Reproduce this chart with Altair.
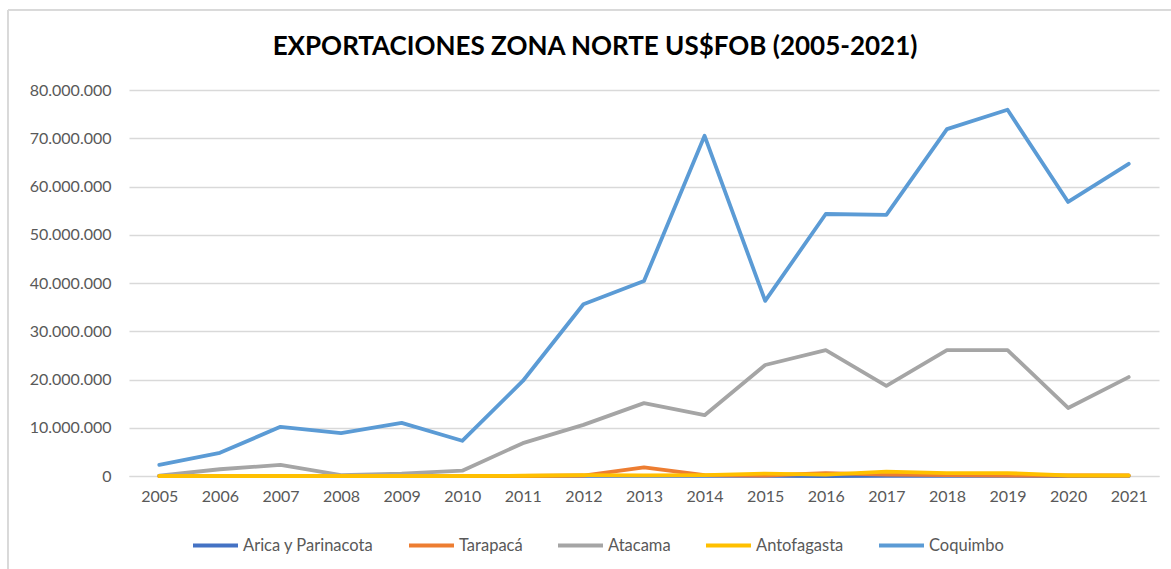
import altair as alt
import pandas as pd

years = [str(y) for y in range(2005, 2022)]
series_names = ["Arica y Parinacota", "Tarapacá", "Atacama", "Antofagasta", "Coquimbo"]
series_colors = ["#4472C4", "#ED7D31", "#A5A5A5", "#FFC000", "#5B9BD5"]

arica = [20000, 15000, 30000, 10000, 20000, 10000, 5000, 10000, 20000, 30000, 10000, 0, 50000, 20000, 10000, 0, 20000]
tarapaca = [0, 0, 0, 0, 0, 0, 0, 100000, 1800000, 200000, 100000, 600000, 300000, 200000, 100000, 100000, 100000]
atacama = [100000, 1400000, 2300000, 200000, 500000, 1100000, 6800000, 10600000, 15100000, 12600000,
           23000000, 26100000, 18700000, 26100000, 26100000, 14100000, 20500000]
antofagasta = [0, 0, 0, 0, 0, 0, 50000, 200000, 150000, 200000, 500000, 300000, 900000, 600000, 600000, 100000, 100000]
coquimbo = [2300000, 4800000, 10200000, 8900000, 11000000, 7300000, 19700000, 35600000, 40400000, 70500000,
            36300000, 54300000, 54100000, 71900000, 75900000, 56800000, 64700000]

all_values = [arica, tarapaca, atacama, antofagasta, coquimbo]
y_ticks = [0, 10000000, 20000000, 30000000, 40000000, 50000000, 60000000, 70000000, 80000000]

rows = []
for name, vals in zip(series_names, all_values):
    for yr, v in zip(years, vals):
        rows.append({"Año": yr, "Región": name, "Valor": v})
df = pd.DataFrame(rows)

FONT = "Lato"
GRAY = "#595959"
GRID = "#D9D9D9"

color_scale = alt.Scale(domain=series_names, range=series_colors)

base = alt.Chart(df).encode(
    x=alt.X("Año:O", scale=alt.Scale(type="point", padding=0.5),
            axis=alt.Axis(title=None, labelAngle=0, ticks=False, tickSize=0, labelPadding=12,
                          domainColor=GRID, domainWidth=1, labelColor=GRAY, labelFontSize=16,
                          labelFont=FONT, grid=False)),
    y=alt.Y("Valor:Q", scale=alt.Scale(domain=[0, 80000000], nice=False),
            axis=alt.Axis(title=None, values=y_ticks, format=",d", ticks=False, domain=False,
                          labelPadding=18, labelColor=GRAY, labelFontSize=16, labelFont=FONT,
                          gridColor=GRID, gridWidth=1.3)),
    color=alt.Color("Región:N", scale=color_scale, sort=series_names,
                    legend=alt.Legend(title=None, orient="none", direction="horizontal",
                                      legendX=62, legendY=431, symbolType="stroke",
                                      symbolStrokeWidth=4, symbolSize=2025, labelOffset=3,
                                      columnPadding=27, labelFontSize=16.5, labelFont=FONT,
                                      labelColor=GRAY, labelLimit=300)),
)

layers = []
for name in series_names:
    layers.append(
        base.transform_filter(alt.datum["Región"] == name)
        .mark_line(strokeWidth=3.8, strokeCap="round", strokeJoin="round")
    )

border_left = alt.Chart(df).mark_rule(color=GRID, strokeWidth=1).encode(
    x=alt.value(-121), y=alt.value(-80), y2=alt.value(480))
border_top = alt.Chart(df).mark_rule(color=GRID, strokeWidth=1).encode(
    x=alt.value(-121), x2=alt.value(1045), y=alt.value(-80))

chart = alt.layer(border_left, border_top, *layers).properties(
    width=1030,
    height=386,
    autosize=alt.AutoSizeParams(type="none"),
    padding={"left": 129, "top": 90, "right": 12, "bottom": 93},
    title=alt.TitleParams("EXPORTACIONES ZONA NORTE US$FOB (2005-2021)", font=FONT, fontSize=26,
                          fontWeight="bold", color="#000000", anchor="middle", frame="group",
                          offset=32, dy=82, dx=-49),
    background="white",
).configure_view(stroke=None)

chart.save("out.html", embed_options={
    "renderer": "svg", "actions": False,
    "formatLocale": {"decimal": ",", "thousands": ".", "grouping": [3], "currency": ["$", ""]},
})
